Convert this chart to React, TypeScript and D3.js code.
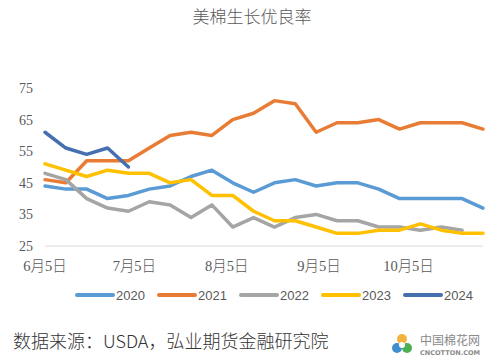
import React, { useEffect, useRef } from "react";
import * as d3 from "d3";

// weekly report dates (month/day)
const weeks = [
  "6/5", "6/12", "6/19", "6/26", "7/3", "7/10", "7/17", "7/24", "7/31",
  "8/7", "8/14", "8/21", "8/28", "9/4", "9/11", "9/18", "9/25",
  "10/2", "10/9", "10/16", "10/23", "10/30",
];

const tickDates = ["6/5", "7/5", "8/5", "9/5", "10/5"];
const tickLabels = ["6月5日", "7月5日", "8月5日", "9月5日", "10月5日"];
const yTicks = [25, 35, 45, 55, 65, 75];

const years = ["2020", "2021", "2022", "2023", "2024"];
const colors = ["#5B9BD5", "#E97C35", "#A5A5A5", "#FFC000", "#466FB0"];

const v2020 = [44, 43, 43, 40, 41, 43, 44, 47, 49, 45, 42, 45, 46, 44, 45, 45, 43, 40, 40, 40, 40, 37];
const v2021 = [46, 45, 52, 52, 52, 56, 60, 61, 60, 65, 67, 71, 70, 61, 64, 64, 65, 62, 64, 64, 64, 62];
const v2022 = [48, 46, 40, 37, 36, 39, 38, 34, 38, 31, 34, 31, 34, 35, 33, 33, 31, 31, 30, 31, 30];
const v2023 = [51, 49, 47, 49, 48, 48, 45, 46, 41, 41, 36, 33, 33, 31, 29, 29, 30, 30, 32, 30, 29, 29];
const v2024 = [61, 56, 54, 56, 50];

const series = [v2020, v2021, v2022, v2023, v2024];

const W = 496;
const H = 362;

const toDate = (s: string) => {
  const [m, d] = s.split("/").map(Number);
  return new Date(2021, m - 1, d);
};

export default function App() {
  const ref = useRef<SVGSVGElement>(null);

  useEffect(() => {
    const svg = d3.select(ref.current);
    svg.selectAll("*").remove();

    const x = d3
      .scaleTime()
      .domain([toDate(weeks[0]), toDate(weeks[weeks.length - 1])])
      .range([45, 483]);
    const y = d3.scaleLinear().domain([25, 75]).range([246, 88]);

    svg.append("rect").attr("width", W).attr("height", H).attr("fill", "#fff");

    // title
    svg
      .append("text")
      .attr("x", 252)
      .attr("y", 23)
      .attr("text-anchor", "middle")
      .style("font-family", "'Noto Sans CJK SC', sans-serif")
      .style("font-size", "17px")
      .style("font-weight", "300")
      .style("fill", "#595959")
      .text("美棉生长优良率");

    // baseline
    svg
      .append("line")
      .attr("x1", 45)
      .attr("x2", 483)
      .attr("y1", y(25))
      .attr("y2", y(25))
      .attr("stroke", "#D9D9D9")
      .attr("stroke-width", 1);

    // y labels
    svg
      .append("g")
      .selectAll("text")
      .data(yTicks)
      .join("text")
      .attr("x", 33)
      .attr("y", (d) => y(d) + 5)
      .attr("text-anchor", "end")
      .style("font-family", "'Liberation Serif', serif")
      .style("font-size", "14px")
      .style("fill", "#595959")
      .text((d) => d);

    // x labels
    svg
      .append("g")
      .selectAll("text")
      .data(tickDates)
      .join("text")
      .attr("x", (d) => x(toDate(d)))
      .attr("y", 271)
      .attr("text-anchor", "middle")
      .style("font-family", "'Liberation Serif', 'Noto Sans CJK SC', serif")
      .style("font-size", "14.5px")
      .style("font-weight", "300")
      .style("fill", "#595959")
      .text((d, i) => tickLabels[i]);

    // lines
    const line = d3
      .line<number>()
      .x((d, i) => x(toDate(weeks[i])))
      .y((d) => y(d));

    svg
      .append("g")
      .selectAll("path")
      .data(series)
      .join("path")
      .attr("d", (d) => line(d))
      .attr("fill", "none")
      .attr("stroke", (d, i) => colors[i])
      .attr("stroke-width", 3.5)
      .attr("stroke-linejoin", "round")
      .attr("stroke-linecap", "round");

    // legend
    const legend = svg
      .append("g")
      .selectAll("g")
      .data(years)
      .join("g")
      .attr("transform", (d, i) => `translate(${77 + i * 82},295)`);
    legend
      .append("line")
      .attr("x1", 0)
      .attr("x2", 36)
      .attr("stroke", (d, i) => colors[i])
      .attr("stroke-width", 4)
      .attr("stroke-linecap", "round");
    legend
      .append("text")
      .attr("x", 39)
      .attr("y", 5)
      .style("font-family", "'Liberation Sans', sans-serif")
      .style("font-size", "13px")
      .style("fill", "#595959")
      .text((d) => d);

    // source
    svg
      .append("text")
      .attr("x", 13)
      .attr("y", 348)
      .style("font-family", "'Noto Sans CJK SC', sans-serif")
      .style("font-size", "18px")
      .style("font-weight", "300")
      .style("fill", "#333")
      .text("数据来源：USDA，弘业期货金融研究院");

    // watermark logo
    const logo = svg.append("g").attr("transform", "translate(402,344)");
    logo.append("circle").attr("cx", 0).attr("cy", -5).attr("r", 5).attr("fill", "#F4B23C");
    logo.append("circle").attr("cx", -5).attr("cy", 4).attr("r", 5).attr("fill", "#3E8FD0");
    logo.append("circle").attr("cx", 5).attr("cy", 4).attr("r", 5).attr("fill", "#4CAF50");
    logo.append("circle").attr("cx", 0).attr("cy", 1).attr("r", 3).attr("fill", "#fff");
    svg
      .append("text")
      .attr("x", 420)
      .attr("y", 345)
      .style("font-family", "'Noto Sans CJK SC', sans-serif")
      .style("font-size", "12px")
      .style("fill", "#8a8a8a")
      .text("中国棉花网");
    svg
      .append("text")
      .attr("x", 420)
      .attr("y", 355)
      .attr("textLength", 60)
      .style("font-family", "'DejaVu Sans', sans-serif")
      .style("font-size", "6.5px")
      .style("font-weight", "bold")
      .style("fill", "#8a8a8a")
      .text("CNCOTTON.COM");
  }, []);

  return (
    <svg
      ref={ref}
      width={W}
      height={H}
      style={{ position: "absolute", left: 0, top: 0 }}
    />
  );
}
